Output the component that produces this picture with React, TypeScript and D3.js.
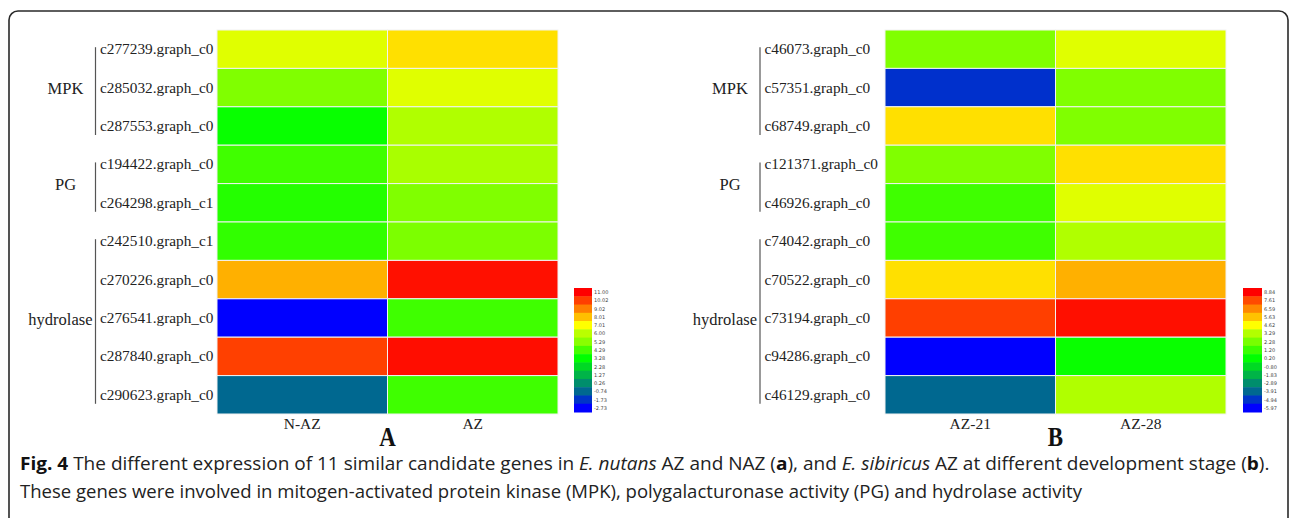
import { useRef, useEffect } from "react";
import * as d3 from "d3";

// panel A: E. nutans N-AZ vs AZ
const genesA = ["c277239.graph_c0", "c285032.graph_c0", "c287553.graph_c0", "c194422.graph_c0", "c264298.graph_c1",
  "c242510.graph_c1", "c270226.graph_c0", "c276541.graph_c0", "c287840.graph_c0", "c290623.graph_c0"];
const colsA = ["N-AZ", "AZ"];
const valsA_NAZ = [6.56, 5.15, 3.4, 4.21, 3.8, 4.0, 8.25, -2.73, 10.0, -0.74];
const valsA_AZ = [7.5, 6.56, 5.85, 5.75, 5.15, 5.1, 10.75, 4.2, 10.8, 4.2];
const legendA = [11.0, 10.02, 9.02, 8.01, 7.01, 6.0, 5.29, 4.29, 3.28, 2.28, 1.27, 0.26, -0.74, -1.73, -2.73];
const stopsA = [-2.73, -0.74, 3.28, 7.01, 11.0];

// panel B: E. sibiricus AZ-21 vs AZ-28
const genesB = ["c46073.graph_c0", "c57351.graph_c0", "c68749.graph_c0", "c121371.graph_c0", "c46926.graph_c0",
  "c74042.graph_c0", "c70522.graph_c0", "c73194.graph_c0", "c94286.graph_c0", "c46129.graph_c0"];
const colsB = ["AZ-21", "AZ-28"];
const valsB_21 = [2.41, -5.02, 5.13, 2.41, 1.3, 1.3, 5.13, 7.79, -5.97, -3.91];
const valsB_28 = [4.09, 2.41, 2.41, 5.13, 4.09, 3.25, 5.93, 8.6, 0.35, 3.25];
const legendB = [8.84, 7.61, 6.59, 5.63, 4.62, 3.29, 2.28, 1.2, 0.2, -0.8, -1.83, -2.89, -3.91, -4.94, -5.97];
const stopsB = [-5.97, -3.91, 0.2, 4.62, 8.84];

const ramp = ["#0000ff", "#006890", "#00ff00", "#ffff00", "#ff0000"];
const groups = [{ name: "MPK", from: 0, to: 2 }, { name: "PG", from: 3, to: 4 }, { name: "hydrolase", from: 5, to: 9 }];

const captionLine2 = "These genes were involved in mitogen-activated protein kinase (MPK), polygalacturonase activity (PG) and hydrolase activity";

export default function App() {
  const ref = useRef<SVGSVGElement>(null);

  useEffect(() => {
    if (!ref.current) return;
    const svg = d3.select(ref.current); svg.selectAll("*").remove();
    svg.append("rect").attr("x", 9).attr("y", 11).attr("width", 1279).attr("height", 530).attr("rx", 9)
      .attr("fill", "none").attr("stroke", "#2a2a2a").attr("stroke-width", 1.6);

    const panels = [
      { genes: genesA, cols: colsA, vals: [valsA_NAZ, valsA_AZ], legend: legendA, stops: stopsA, tag: "A",
        bracket: 95.5, hx: 217, hw: 341, lx: 574, lw: 18 },
      { genes: genesB, cols: colsB, vals: [valsB_21, valsB_28], legend: legendB, stops: stopsB, tag: "B",
        bracket: 760, hx: 885, hw: 341, lx: 1243, lw: 19 },
    ];
    const y = d3.scaleBand<number>().domain(d3.range(10)).range([30, 414]);
    const serif = "'Liberation Serif', 'Times New Roman', serif";

    panels.forEach(p => {
      const color = d3.scaleLinear<string>().domain(p.stops).range(ramp).interpolate(d3.interpolateRgb).clamp(true);
      const x = d3.scaleBand<string>().domain(p.cols).range([p.hx, p.hx + p.hw]);
      const g = svg.append("g");
      p.cols.forEach((c, ci) => {
        g.selectAll(null).data(p.vals[ci]).join("rect")
          .attr("x", x(c)!).attr("width", x.bandwidth())
          .attr("y", (_d, i) => y(i)!).attr("height", y.bandwidth())
          .attr("fill", d => color(d)).attr("stroke", "#f2f2f2").attr("stroke-width", 1);
        g.append("text").attr("x", x(c)! + x.bandwidth() / 2).attr("y", 429).attr("text-anchor", "middle")
          .attr("font-family", serif).attr("font-size", "15.5px").attr("fill", "#222").text(c);
      });
      g.selectAll(null).data(p.genes).join("text")
        .attr("x", p.bracket + 4.5).attr("y", (_d, i) => y(i)! + y.bandwidth() / 2 + 5)
        .attr("font-family", serif).attr("font-size", "15.3px").attr("fill", "#222").text(d => d);
      groups.forEach(gr => {
        const y1 = y(gr.from)! + y.bandwidth() / 2 - 2;
        const y2 = y(gr.to)! + y.bandwidth() / 2 + 9;
        g.append("line").attr("x1", p.bracket).attr("x2", p.bracket).attr("y1", y1).attr("y2", y2)
          .attr("stroke", "#555").attr("stroke-width", 1.2);
        const t = g.append("text").attr("y", (y1 + y2) / 2 + 3)
          .attr("font-family", serif).attr("font-size", "16.5px").attr("fill", "#222").text(gr.name);
        if (gr.name === "hydrolase") t.attr("x", p.bracket - 3).attr("text-anchor", "end");
        else t.attr("x", p.bracket - 30).attr("text-anchor", "middle");
      });
      const cx = x.range()[0] + p.hw / 2;
      g.append("text").attr("transform", `translate(${cx},446) scale(0.85,1)`).attr("text-anchor", "middle")
        .attr("font-family", serif).attr("font-weight", "bold").attr("font-size", "27px").attr("fill", "#111").text(p.tag);
      // colour key
      const ly = d3.scaleBand<number>().domain(d3.range(p.legend.length)).range([288, 412]);
      g.selectAll(null).data(p.legend).join("rect")
        .attr("x", p.lx).attr("width", p.lw).attr("y", (_d, i) => ly(i)!).attr("height", ly.bandwidth() + 0.5)
        .attr("fill", d => color(d));
      g.selectAll(null).data(p.legend).join("text")
        .attr("x", p.lx + p.lw + 2).attr("y", (_d, i) => ly(i)! + ly.bandwidth() / 2 + 2)
        .attr("font-family", "'DejaVu Sans', sans-serif").attr("font-size", "5px").attr("fill", "#444")
        .text(d => d.toFixed(2));
    });

    const sans = "'Open Sans', 'Noto Sans', sans-serif";
    const l1 = svg.append("text").attr("font-family", sans).attr("font-size", "17.5px").attr("fill", "#222");
    const parts: [string, string][] = [["Fig. 4", "b"], [" The different expression of 11 similar candidate genes in ", ""],
      ["E. nutans", "i"], [" AZ and NAZ (", ""], ["a", "b"], ["), and ", ""], ["E. sibiricus", "i"],
      [" AZ at different development stage (", ""], ["b", "b"], [").", ""]];
    parts.forEach(([s, st]) => {
      const ts = l1.append("tspan").text(s);
      if (st === "b") ts.attr("font-weight", "bold").attr("fill", "#111");
      if (st === "i") ts.attr("font-style", "italic");
    });
    const l2 = svg.append("text").attr("font-family", sans).attr("font-size", "17.5px").attr("fill", "#222").text(captionLine2);
    const fit = (el: d3.Selection<SVGTextElement, unknown, null, undefined>, x0: number, yb: number, w: number) => {
      const len = (el.node() as SVGTextElement).getComputedTextLength();
      el.attr("transform", `translate(${x0},${yb}) scale(${w / len},1)`);
    };
    fit(l1, 20, 470, 1250);
    fit(l2, 20, 498, 1063);
  }, []);

  return (
    <div style={{ position: "fixed", left: 0, top: 0, background: "#fff" }}>
      <svg ref={ref} width={1290} height={518} style={{ display: "block" }} />
    </div>
  );
}
